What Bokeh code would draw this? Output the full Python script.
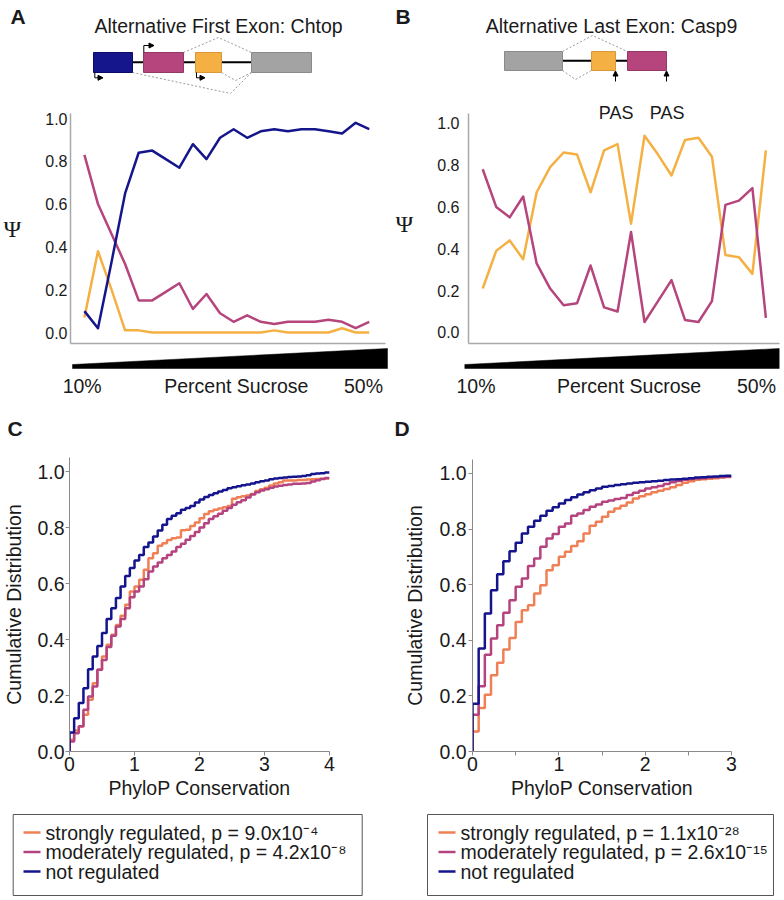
import numpy as np
from bokeh.plotting import figure
from bokeh.models import Range1d, FixedTicker, PrintfTickFormatter, Arrow, NormalHead
from bokeh.layouts import row, column
from bokeh.embed import file_html
from bokeh.resources import INLINE
from bokeh.core.properties import value

FONT = "Liberation Sans"
TXT = "#1a1a1a"

# ------------------------------------------------------------------ data
fractions = list(range(1, 23))          # sucrose gradient fractions (10% -> 50%)
sucrose_pct = [10, 50]

# Panel A: Chtop alternative first exon, psi per fraction
chtop_blue = [0.10, 0.02, 0.33, 0.65, 0.84, 0.85, 0.81, 0.77, 0.88, 0.81, 0.91,
              0.95, 0.91, 0.94, 0.95, 0.94, 0.95, 0.95, 0.94, 0.93, 0.98, 0.95]
chtop_magenta = [0.83, 0.60, 0.46, 0.32, 0.15, 0.15, 0.19, 0.23, 0.11, 0.18, 0.09,
                 0.05, 0.08, 0.05, 0.04, 0.05, 0.05, 0.05, 0.06, 0.05, 0.02, 0.05]
chtop_orange = [0.07, 0.38, 0.20, 0.01, 0.01, 0.00, 0.00, 0.00, 0.00, 0.00, 0.00,
                0.00, 0.00, 0.00, 0.01, 0.00, 0.00, 0.00, 0.00, 0.02, 0.00, 0.00]

# Panel B: Casp9 alternative last exon
casp9_magenta = [0.78, 0.60, 0.55, 0.65, 0.33, 0.21, 0.13, 0.14, 0.32, 0.12, 0.10,
                 0.48, 0.05, 0.15, 0.25, 0.06, 0.05, 0.15, 0.61, 0.63, 0.69, 0.07]
casp9_orange = [0.21, 0.39, 0.44, 0.35, 0.67, 0.79, 0.86, 0.85, 0.67, 0.87, 0.90,
                0.52, 0.94, 0.85, 0.75, 0.92, 0.93, 0.84, 0.37, 0.36, 0.28, 0.87]

# Panels C/D: cumulative distributions of PhyloP (bins of 1/14)
bins_per_unit = 14
c_strong = [0.042, 0.075, 0.089, 0.131, 0.185, 0.244, 0.292, 0.339, 0.381, 0.417,
            0.452, 0.485, 0.524, 0.571, 0.589, 0.613, 0.649, 0.690, 0.708, 0.735,
            0.744, 0.755, 0.762, 0.764, 0.790, 0.792, 0.805, 0.818, 0.833, 0.848,
            0.858, 0.863, 0.868, 0.872, 0.877, 0.903, 0.908, 0.912, 0.914, 0.920,
            0.930, 0.937, 0.942, 0.950, 0.957, 0.962, 0.968, 0.968, 0.968, 0.970,
            0.970, 0.971, 0.972, 0.973, 0.974, 0.975]
c_moderate = [0.036, 0.065, 0.090, 0.149, 0.196, 0.232, 0.292, 0.327, 0.373, 0.413,
              0.446, 0.473, 0.512, 0.551, 0.571, 0.589, 0.615, 0.643, 0.661, 0.675,
              0.690, 0.702, 0.714, 0.730, 0.742, 0.756, 0.770, 0.784, 0.800, 0.815,
              0.830, 0.840, 0.849, 0.860, 0.870, 0.881, 0.890, 0.897, 0.907, 0.918,
              0.926, 0.932, 0.937, 0.942, 0.946, 0.949, 0.952, 0.954, 0.956, 0.956,
              0.957, 0.959, 0.964, 0.969, 0.973, 0.977]
c_not = [0.068, 0.119, 0.173, 0.226, 0.294, 0.339, 0.377, 0.423, 0.473, 0.512,
         0.548, 0.589, 0.627, 0.655, 0.682, 0.702, 0.730, 0.746, 0.768, 0.789,
         0.810, 0.830, 0.842, 0.851, 0.863, 0.870, 0.877, 0.889, 0.900, 0.909,
         0.916, 0.922, 0.929, 0.934, 0.940, 0.944, 0.947, 0.951, 0.954, 0.957,
         0.962, 0.965, 0.968, 0.972, 0.975, 0.977, 0.979, 0.980, 0.981, 0.982,
         0.984, 0.987, 0.991, 0.993, 0.994, 0.996]

d_strong = [0.072, 0.156, 0.204, 0.274, 0.319, 0.367, 0.408, 0.466, 0.508, 0.526,
            0.568, 0.598, 0.652, 0.670, 0.700, 0.718, 0.739, 0.756, 0.784, 0.812,
            0.826, 0.844, 0.862, 0.874, 0.884, 0.895, 0.910, 0.918, 0.925, 0.932,
            0.938, 0.944, 0.950, 0.958, 0.966, 0.972, 0.977, 0.979, 0.981, 0.983,
            0.985, 0.987]
d_moderate = [0.132, 0.235, 0.348, 0.406, 0.454, 0.499, 0.544, 0.592, 0.622, 0.667,
              0.694, 0.736, 0.766, 0.782, 0.808, 0.820, 0.848, 0.856, 0.868, 0.880,
              0.888, 0.898, 0.903, 0.908, 0.912, 0.922, 0.930, 0.938, 0.946, 0.950,
              0.955, 0.962, 0.968, 0.973, 0.977, 0.980, 0.982, 0.983, 0.985, 0.986,
              0.987, 0.988]
d_not = [0.172, 0.370, 0.496, 0.580, 0.637, 0.684, 0.720, 0.751, 0.784, 0.808,
         0.830, 0.848, 0.866, 0.878, 0.892, 0.904, 0.914, 0.924, 0.932, 0.939,
         0.946, 0.952, 0.955, 0.958, 0.961, 0.964, 0.966, 0.968, 0.970, 0.972,
         0.974, 0.976, 0.978, 0.979, 0.981, 0.983, 0.985, 0.986, 0.988, 0.989,
         0.991, 0.992]

legend_c = ["strongly regulated, p = 9.0x10\u207b\u2074",
            "moderately regulated, p = 4.2x10\u207b\u2078",
            "not regulated"]
legend_d = ["strongly regulated, p = 1.1x10\u207b\u00b2\u2078",
            "moderately regulated, p = 2.6x10\u207b\u00b9\u2075",
            "not regulated"]

# gene schematics (schematic coordinates)
chtop_exon_left = [93, 143, 195, 251]
chtop_exon_right = [132, 183, 221, 311]
casp9_exon_left = [504, 591, 627]
casp9_exon_right = [562, 615, 666]

# ------------------------------------------------------------------ colours
BLUE, MAG, ORG, GREY = "#16168c", "#b5457c", "#f5b043", "#a3a3a3"
C_ORG, C_MAG, C_BLUE = "#ef8056", "#b4437f", "#14148c"

COMMON = dict(output_backend="svg", toolbar_location=None, frame_align=False,
              outline_line_color=None)


def blank(w, h, xr, yr, **kw):
    return figure(width=w, height=h, x_range=xr, y_range=yr, x_axis_type=None,
                  y_axis_type=None, min_border=0, **COMMON, **kw)


def txt(p, x, y, s, size="19.5px", align="center", style="normal", font=FONT):
    xs = x if isinstance(x, list) else [x]
    ys = y if isinstance(y, list) else [y] * len(xs)
    ss = s if isinstance(s, list) else [s]
    p.text(x=xs, y=ys, text=ss, text_font=value(font), text_font_size=size,
           text_font_style=style, text_align=align, text_baseline="middle",
           text_color=TXT)


# ------------------------------------------------------------------ diagram A
dA = blank(392, 100, Range1d(0, 392), Range1d(100, 0))
dA.segment(x0=chtop_exon_right[0], y0=61.7, x1=chtop_exon_left[-1], y1=61.7,
           line_color="black", line_width=2)
dA.multi_line(xs=[[183, 218, 251], [132, 230, 251], [221, 235, 251]],
              ys=[[52, 37, 52], [72, 93, 72], [72, 80, 72]],
              line_color="#9a9a9a", line_width=1, line_dash="2 2")
dA.quad(left=chtop_exon_left, right=chtop_exon_right, top=52, bottom=72,
        fill_color=[BLUE, MAG, ORG, GREY],
        line_color=["#0c0c66", "#963864", "#d9973a", "#8a8a8a"], line_width=1)
for (x0, y0, y1, x1) in [(94.3, 72, 77.3, 102.5), (143.3, 52, 45, 153.5), (196, 72, 77.3, 204.5)]:
    dA.segment(x0=x0, y0=y0, x1=x0, y1=y1, line_color="black", line_width=1)
    dA.add_layout(Arrow(end=NormalHead(size=5, fill_color="black", line_color="black"),
                        x_start=x0, y_start=y1, x_end=x1, y_end=y1, line_width=1))
txt(dA, 10, 15.5, "A", size="21px", align="left", style="bold")
txt(dA, 218, 25.3, "Alternative First Exon: Chtop")

# ------------------------------------------------------------------ diagram B
dB = blank(392, 100, Range1d(392, 784), Range1d(100, 0))
dB.segment(x0=casp9_exon_right[0], y0=60.3, x1=casp9_exon_left[-1], y1=60.3,
           line_color="black", line_width=2)
dB.multi_line(xs=[[562, 592, 627], [562, 575, 591]], ys=[[51, 35, 51], [70, 79, 70]],
              line_color="#9a9a9a", line_width=1, line_dash="2 2")
dB.quad(left=casp9_exon_left, right=casp9_exon_right, top=51, bottom=70,
        fill_color=[GREY, ORG, MAG], line_color=["#8a8a8a", "#d9973a", "#963864"], line_width=1)
for xa in [casp9_exon_right[1], casp9_exon_right[2]]:
    dB.add_layout(Arrow(end=NormalHead(size=5, fill_color="black", line_color="black"),
                        x_start=xa, y_start=81, x_end=xa, y_end=70.5, line_width=1))
txt(dB, 395, 15.5, "B", size="21px", align="left", style="bold")
txt(dB, 611, 25.3, "Alternative Last Exon: Casp9")


# ------------------------------------------------------------------ line panels
def psi_fig(xr, yr, left, right, top, label_standoff, psi_standoff, bounds=None):
    p = figure(width=392, height=245, x_range=xr, y_range=yr, min_border_left=left,
               min_border_right=right, min_border_top=top, min_border_bottom=2, **COMMON)
    p.grid.visible = False
    p.xaxis.ticker = FixedTicker(ticks=[])
    p.yaxis.ticker = FixedTicker(ticks=[0, 0.2, 0.4, 0.6, 0.8, 1.0])
    p.yaxis.formatter = PrintfTickFormatter(format="%.1f")
    if bounds is not None:
        p.yaxis.bounds = bounds
    p.axis.axis_line_color = "#a8a8a8"
    p.axis.axis_line_width = 1.5
    p.axis.major_tick_line_color = None
    p.axis.minor_tick_line_color = None
    p.axis.major_tick_out = 0
    p.axis.major_tick_in = 0
    p.axis.minor_tick_out = 0
    p.axis.minor_tick_in = 0
    p.yaxis.major_label_standoff = label_standoff
    p.xaxis.major_label_standoff = 0
    p.yaxis.major_label_text_font = FONT
    p.yaxis.major_label_text_font_size = "16px"
    p.yaxis.major_label_text_color = TXT
    ax = p.yaxis[0]
    ax.axis_label = "\u03a8"
    ax.axis_label_text_font = "Liberation Serif"
    ax.axis_label_text_font_size = "24px"
    ax.axis_label_text_font_style = "normal"
    ax.axis_label_text_color = TXT
    ax.axis_label_standoff = psi_standoff
    try:
        ax.axis_label_orientation = "horizontal"
    except AttributeError:
        pass
    return p


pA = psi_fig(Range1d(-0.026, 23.2), Range1d(-0.0514, 1.0234), 68, 7, 13, 3, 21)
pA.line(fractions, chtop_orange, line_color=ORG, line_width=2.5, line_join="round")
pA.line(fractions, chtop_magenta, line_color=MAG, line_width=2.5, line_join="round")
pA.line(fractions, chtop_blue, line_color=BLUE, line_width=2.5, line_join="round")

pB = psi_fig(Range1d(-0.054, 23.01), Range1d(-0.0526, 1.0941), 74, 5, 3, 9, 21,
             bounds=(-0.0526, 1.0463))
pB.line(fractions, casp9_orange, line_color=ORG, line_width=2.5, line_join="round")
pB.line(fractions, casp9_magenta, line_color=MAG, line_width=2.5, line_join="round")
txt(pB, [10.90, 14.68], 1.051, ["PAS", "PAS"], size="18px")


# ------------------------------------------------------------------ sucrose wedges (+ C/D letters)
def wedge_fig(xr, labels_x, letter, letter_x):
    w = blank(392, 95, xr, Range1d(-180, 57.5))
    s0, s1 = sucrose_pct
    w.patch(x=[s0, s0, s1, s1], y=[0, s0, s1, 0], fill_color="black", line_color="black",
            line_width=0.5)
    txt(w, labels_x, -44.0, ["10%", "Percent Sucrose", "50%"])
    txt(w, letter_x, -148.75, letter, size="21px", align="left", style="bold")
    return w


wA = wedge_fig(Range1d(0.857, 50.635), [11.23, 30.8, 46.95], "C", 1.75)
wB = wedge_fig(Range1d(0.80, 50.674), [11.42, 30.89, 47.11], "D", 1.06)


# ------------------------------------------------------------------ CDF panels
def cdf_fig(xmax, left, right, top, minor, lab_standoff, ylab_standoff):
    p = figure(width=392, height=372, x_range=Range1d(0, xmax), y_range=Range1d(0, 1.05),
               min_border_left=left, min_border_right=right, min_border_top=top,
               min_border_bottom=61, **COMMON)
    p.grid.visible = False
    p.xaxis.ticker = FixedTicker(ticks=list(range(xmax + 1)), minor_ticks=minor)
    p.yaxis.ticker = FixedTicker(ticks=[0, 0.2, 0.4, 0.6, 0.8, 1.0])
    p.yaxis.formatter = PrintfTickFormatter(format="%.1f")
    p.axis.axis_line_color = "#8a8a8a"
    p.axis.major_tick_line_color = "#8a8a8a"
    p.axis.minor_tick_line_color = "#8a8a8a"
    p.axis.major_tick_out = 4
    p.axis.major_tick_in = 0
    p.axis.minor_tick_out = 4
    p.axis.minor_tick_in = 0
    p.xaxis.major_label_standoff = 1
    p.yaxis.major_label_standoff = lab_standoff
    p.axis.major_label_text_font = FONT
    p.axis.major_label_text_font_size = "19.5px"
    p.axis.major_label_text_color = TXT
    p.xaxis.axis_label = "PhyloP Conservation"
    p.xaxis.axis_label_standoff = 3
    p.yaxis.axis_label = "Cumulative Distribution"
    p.yaxis.axis_label_standoff = ylab_standoff
    p.axis.axis_label_text_font = FONT
    p.axis.axis_label_text_font_size = "19.5px"
    p.axis.axis_label_text_font_style = "normal"
    p.axis.axis_label_text_color = TXT
    return p


def steps(p, vals, color):
    edges = np.arange(len(vals) + 1) / bins_per_unit
    xs = [0.0] + [float(e) for e in edges]
    ys = [0.0] + list(vals) + [vals[-1]]
    p.step(xs, ys, mode="after", line_color=color, line_width=2.5)


pC = cdf_fig(4, 68, 63, 17, [], 1, 9)
steps(pC, c_strong, C_ORG)
steps(pC, c_moderate, C_MAG)
steps(pC, c_not, C_BLUE)

pD = cdf_fig(3, 80, 53, 19, [0.5, 1.5, 2.5], 2, 10)
steps(pD, d_strong, C_ORG)
steps(pD, d_moderate, C_MAG)
steps(pD, d_not, C_BLUE)


# ------------------------------------------------------------------ legends
def legend_fig(xr, labels, box, seg, text_x):
    f = blank(392, 88, xr, Range1d(900, 812))
    rows = [832, 851.5, 871]
    f.quad(left=box[0], right=box[1], top=814, bottom=895, fill_color="white",
           line_color="#555555", line_width=1)
    f.segment(x0=seg[0], x1=seg[1], y0=rows, y1=rows, line_color=[C_ORG, C_MAG, C_BLUE],
              line_width=2.5)
    txt(f, [text_x] * 3, rows, labels, align="left")
    return f


lC = legend_fig(Range1d(0, 392), legend_c, (12.7, 361.7), (23, 40), 45)
lD = legend_fig(Range1d(392, 784), legend_d, (427, 773), (438, 455), 460)

layout = row(column(dA, pA, wA, pC, lC), column(dB, pB, wB, pD, lD))
open("out.html", "w").write(file_html(layout, INLINE))
